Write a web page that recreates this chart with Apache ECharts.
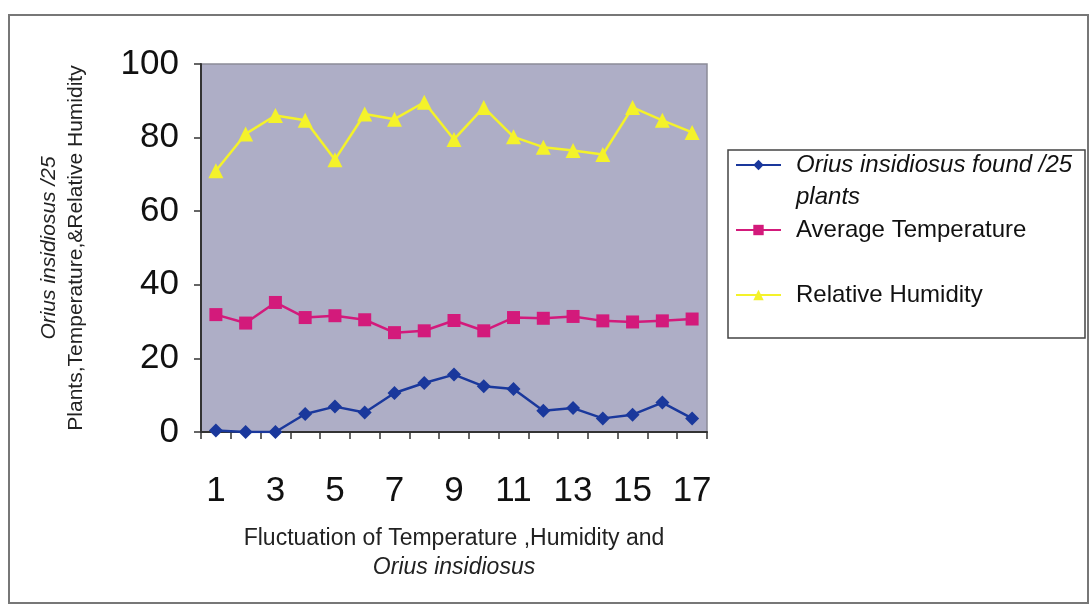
<!DOCTYPE html>
<html>
<head>
<meta charset="utf-8">
<script src="https://cdn.jsdelivr.net/npm/echarts@6/dist/echarts.min.js"></script>
<style>
  html, body { margin: 0; padding: 0; background: #fff; }
  #main { width: 1091px; height: 606px; }
</style>
</head>
<body>
<div id="main"></div>
<script>
// 数据
var weeks = ['1','2','3','4','5','6','7','8','9','10','11','12','13','14','15','16','17'];
var oriusFound = [0.4, 0, 0, 4.9, 6.9, 5.3, 10.6, 13.3, 15.6, 12.4, 11.7, 5.8, 6.5, 3.7, 4.7, 8, 3.7];
var avgTemp = [31.9, 29.6, 35.2, 31.1, 31.6, 30.5, 27, 27.5, 30.3, 27.5, 31.1, 30.9, 31.4, 30.2, 29.9, 30.2, 30.7];
var relHumidity = [71, 81, 86, 84.7, 74, 86.4, 85, 89.6, 79.5, 88.2, 80.2, 77.4, 76.5, 75.4, 88.2, 84.7, 81.4];
var yTicks = [0, 20, 40, 60, 80, 100];

var s1 = 'Orius insidiosus found /25 plants';
var s2 = 'Average Temperature';
var s3 = 'Relative Humidity';

var chart = echarts.init(document.getElementById('main'));
var font = 'Liberation Sans, Arial, sans-serif';

var legendBase = {
    orient: 'vertical',
    left: 735,
    padding: 0,
    itemWidth: 45,
    itemHeight: 13,
    selectedMode: false,
    textStyle: {
        fontFamily: font,
        fontSize: 24,
        color: '#111',
        lineHeight: 32,
        padding: [0, 0, 0, 10]
    }
};

var option = {
    backgroundColor: '#fff',
    animation: false,
    grid: {
        left: 201,
        right: 384,
        top: 64,
        bottom: 174,
        show: true,
        backgroundColor: '#aeaec6',
        borderColor: '#8c8c98',
        borderWidth: 1.5
    },
    legend: [
        Object.assign({}, legendBase, {
            top: 117,
            data: [s1],
            // 空行占位, 让图标对齐第一行
            formatter: function () {
                return '{p| }\n{i|Orius insidiosus found /25}\n{i|plants}';
            },
            textStyle: Object.assign({}, legendBase.textStyle, {
                rich: {
                    p: { fontSize: 24, lineHeight: 32 },
                    i: { fontFamily: font, fontSize: 24, lineHeight: 32, fontStyle: 'italic', color: '#111' }
                }
            })
        }),
        Object.assign({}, legendBase, { top: 214, data: [s2] }),
        Object.assign({}, legendBase, { top: 279, data: [s3] })
    ],
    graphic: [
        {
            type: 'rect',
            shape: { x: 9, y: 15, width: 1079, height: 588 },
            style: { fill: 'none', stroke: '#777', lineWidth: 2 },
            z: -1
        },
        {
            type: 'rect',
            shape: { x: 728, y: 150, width: 357, height: 188 },
            style: { fill: 'none', stroke: '#444', lineWidth: 1.5 },
            z: -1
        }
    ],
    xAxis: {
        type: 'category',
        data: weeks,
        boundaryGap: true,
        name: '{n|Fluctuation of Temperature ,Humidity and}\n{i|Orius insidiosus}',
        nameLocation: 'middle',
        nameGap: 92,
        nameTextStyle: {
            rich: {
                n: { fontFamily: font, fontSize: 23, color: '#222', lineHeight: 29 },
                i: { fontFamily: font, fontSize: 23, color: '#222', lineHeight: 29, fontStyle: 'italic' }
            }
        },
        axisLine: { lineStyle: { color: '#333', width: 2 } },
        axisTick: { show: true, interval: 0, length: 7, lineStyle: { color: '#333', width: 1.5 } },
        axisLabel: {
            interval: 1,
            margin: 42,
            fontFamily: font,
            fontSize: 35,
            color: '#111'
        }
    },
    yAxis: {
        type: 'value',
        min: yTicks[0],
        max: yTicks[yTicks.length - 1],
        interval: 20,
        name: '{i|Orius insidiosus /25}\n{n|Plants,Temperature,&Relative Humidity}',
        nameLocation: 'middle',
        nameGap: 111,
        nameRotate: 90,
        nameTextStyle: {
            rich: {
                n: { fontFamily: font, fontSize: 21, color: '#222', lineHeight: 27 },
                i: { fontFamily: font, fontSize: 21, color: '#222', lineHeight: 27, fontStyle: 'italic' }
            }
        },
        axisLine: { show: true, lineStyle: { color: '#333', width: 2 } },
        axisTick: { show: true, length: 7, lineStyle: { color: '#333', width: 1.5 } },
        splitLine: { show: false },
        axisLabel: {
            margin: 22,
            fontFamily: font,
            fontSize: 35,
            color: '#111'
        }
    },
    series: [
        {
            name: s1,
            type: 'line',
            data: oriusFound,
            symbol: 'diamond',
            symbolSize: 14,
            color: '#1a389c',
            lineStyle: { width: 2.5 }
        },
        {
            name: s2,
            type: 'line',
            data: avgTemp,
            symbol: 'rect',
            symbolSize: 13,
            color: '#d31a7b',
            lineStyle: { width: 2.5 }
        },
        {
            name: s3,
            type: 'line',
            data: relHumidity,
            symbol: 'triangle',
            symbolSize: 15,
            color: '#f4f22a',
            lineStyle: { width: 2.5 }
        }
    ]
};

chart.setOption(option);
</script>
</body>
</html>
